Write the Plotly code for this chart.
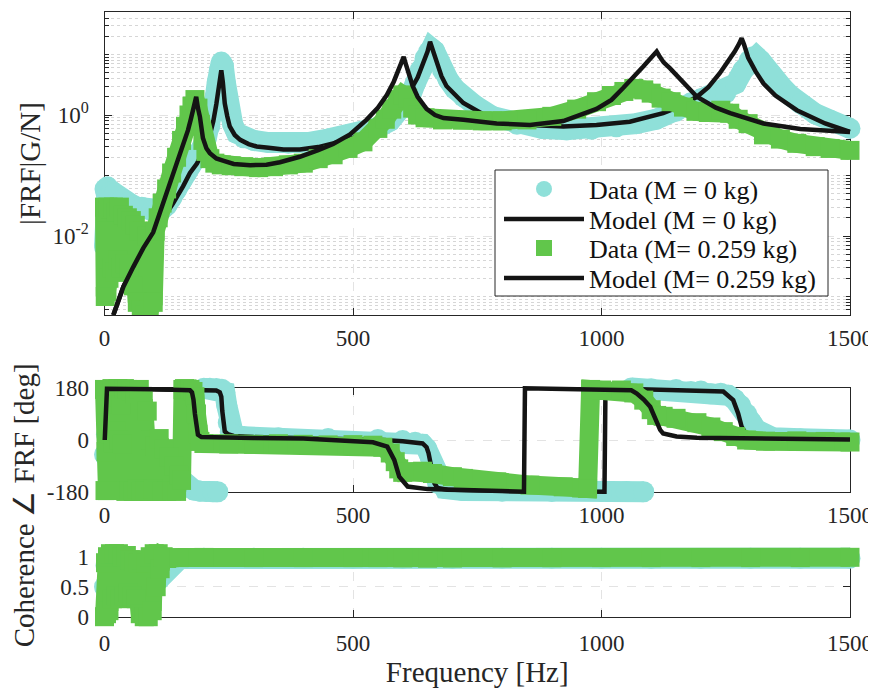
import plotly.graph_objects as go

# ---------------- values ----------------
# |FRF| magnitude, measured data M = 0 kg (cyan circles)
mag_d0_f = [0, 1, 3, 6, 10, 15, 20, 28, 36, 45, 55, 65, 75, 85, 95, 105, 115, 125, 135, 145, 155, 165, 175, 185, 195,
            205, 212, 218, 223, 227, 231, 235, 239, 243, 247, 252, 258, 266, 280, 300, 330, 370, 410, 450, 490, 520,
            550, 575, 600, 615, 625, 635, 645, 652, 658, 664, 670, 680, 692, 705, 722, 745, 780, 830, 880, 930, 980,
            1030, 1070, 1110, 1150, 1180, 1200, 1225, 1250, 1270, 1285, 1297, 1305, 1312, 1320, 1330, 1345, 1362,
            1380, 1400, 1430, 1460, 1500]
mag_d0 = [0.0066, 0.06, 0.05, 0.065, 0.05, 0.055, 0.05, 0.045, 0.04, 0.035, 0.033, 0.03, 0.03, 0.028, 0.026, 0.025,
          0.027, 0.032, 0.042, 0.058, 0.08, 0.11, 0.15, 0.2, 0.28, 0.42, 0.65, 1.1, 2.0, 3.5, 5.5, 7.5, 6.5, 3.5,
          1.8, 1.0, 0.7, 0.5, 0.42, 0.38, 0.35, 0.34, 0.35, 0.4, 0.45, 0.52, 0.62, 0.8, 1.3, 2.0, 3.3, 5.5, 8.7,
          11.0, 12.6, 11.5, 8.5, 5.5, 3.8, 2.7, 2.0, 1.45, 0.95, 0.7, 0.6, 0.57, 0.58, 0.64, 0.72, 0.85, 1.15, 1.6,
          1.85, 1.95, 2.3, 3.3, 5.5, 8.0, 9.2, 9.2, 8.0, 6.0, 4.3, 3.0, 2.1, 1.55, 1.05, 0.82, 0.6]

# |FRF| model M = 0 kg
mag_m0_f = [17.8, 38, 58, 78, 98, 118, 138, 158, 172, 186, 199, 212, 219, 225, 229, 232, 235, 238, 242, 247, 252,
            262, 273, 290, 306, 330, 360, 393, 430, 460, 500, 527, 561, 594, 615, 630, 642, 650, 655, 660, 668, 678,
            688, 705, 722, 760, 789, 856, 923, 990, 1057, 1124, 1160, 1192, 1215, 1238, 1255, 1268, 1277, 1282,
            1287, 1295, 1310, 1326, 1350, 1393, 1450, 1500]
mag_m0 = [0.000494, 0.00145, 0.00309, 0.00631, 0.011, 0.0191, 0.0347, 0.0661, 0.11, 0.158, 0.251, 0.468, 0.794,
          1.51, 2.82, 4.17, 5.5, 3.55, 1.55, 0.955, 0.646, 0.468, 0.389, 0.331, 0.302, 0.288, 0.269, 0.269, 0.295,
          0.339, 0.417, 0.525, 0.759, 1.45, 2.51, 4.17, 7.08, 11.2, 16.2, 12.0, 7.24, 4.37, 3.02, 2.14, 1.58, 1.05,
          0.83, 0.684, 0.646, 0.684, 0.776, 1.07, 1.41, 2.0, 2.88, 4.9, 7.59, 11.2, 15.1, 18.6, 14.5, 8.91, 5.25,
          3.31, 2.09, 1.2, 0.724, 0.525]

# |FRF| measured data M = 0.259 kg (green squares)
mag_d1_f = [0, 1.5, 3, 5, 7, 9, 12, 15, 18, 21, 24, 27, 30, 34, 38, 42, 46, 50, 54, 58, 62, 66, 70, 74, 78, 82, 86,
            90, 94, 98, 102, 108, 116, 125, 135, 145, 155, 163, 170, 176, 182, 188, 193, 198, 204, 212, 222, 235,
            255, 280, 310, 340, 370, 400, 430, 460, 490, 520, 550, 565, 578, 590, 600, 610, 620, 630, 645, 680, 720,
            760, 800, 850, 900, 950, 990, 1020, 1045, 1065, 1085, 1100, 1120, 1140, 1165, 1190, 1215, 1240, 1258,
            1275, 1295, 1326, 1360, 1393, 1430, 1460, 1500]
mag_d1 = [0.03, 0.001, 0.025, 0.0012, 0.03, 0.002, 0.028, 0.003, 0.03, 0.0025, 0.025, 0.004, 0.03, 0.003, 0.022,
          0.0035, 0.02, 0.003, 0.018, 0.0015, 0.015, 0.0008, 0.012, 0.0006, 0.012, 0.0005, 0.01, 0.0006, 0.009,
          0.0008, 0.012, 0.02, 0.035, 0.06, 0.11, 0.2, 0.38, 0.65, 1.0, 1.4, 1.8, 1.3, 0.7, 0.38, 0.25, 0.19, 0.16,
          0.15, 0.145, 0.14, 0.135, 0.14, 0.15, 0.16, 0.19, 0.22, 0.28, 0.36, 0.6, 0.85, 1.25, 1.8, 2.15, 1.9, 1.3,
          1.0, 0.9, 0.83, 0.82, 0.8, 0.8, 0.83, 0.95, 1.25, 1.66, 2.1, 2.45, 2.75, 2.6, 2.3, 1.9, 1.66, 1.35, 1.15,
          1.1, 1.2, 1.07, 0.85, 0.72, 0.47, 0.4, 0.34, 0.3, 0.28, 0.26]

# |FRF| model M = 0.259 kg
mag_m1_f = [17.8, 38, 58, 78, 98, 112, 125, 138, 150, 160, 168, 174, 178, 181, 184.5, 188, 192, 198, 205, 212, 225,
            240, 260, 293, 326, 353, 393, 430, 460, 494, 527, 550, 568, 582, 592, 598, 602, 606, 612, 620, 630, 648,
            665, 682, 722, 789, 856, 923, 990, 1020, 1044, 1065, 1084, 1098, 1106, 1111, 1116, 1125, 1138, 1160,
            1192, 1230, 1259, 1326, 1400, 1500]
mag_m1 = [0.000494, 0.00145, 0.00309, 0.00631, 0.0115, 0.0251, 0.0537, 0.105, 0.191, 0.339, 0.562, 0.871, 1.2,
          1.48, 2.0, 1.3, 0.933, 0.417, 0.282, 0.234, 0.191, 0.174, 0.155, 0.148, 0.151, 0.166, 0.204, 0.263, 0.331,
          0.479, 0.832, 1.32, 2.14, 3.55, 5.5, 7.59, 9.12, 7.08, 4.79, 3.02, 2.0, 1.26, 1.0, 0.891, 0.832, 0.724,
          0.684, 0.794, 1.26, 1.78, 2.82, 4.17, 6.31, 8.51, 10.0, 11.2, 9.55, 7.41, 5.89, 3.72, 2.0, 1.32, 1.07,
          0.724, 0.589, 0.525]

# Phase [deg], data M = 0 kg (None = break where the data wraps at +/-180)
ph_d0_f = [0, 4, 8, 14, 20, 28, 36, 44, 52, 60, 68, 76, 84, 92, 100, 110, 120, 130, 140, 150, 160, 170, 180, 192,
           205, 218, 228, None,
           200, 212, 225, 236, 242, 246, 249, 253, 260, 280, 350, 450, 550, 600, 625, 640, 648, 655, 662, 670, 685,
           720, 800, 900, 1000, 1050, 1085, None,
           1060, 1100, 1150, 1180, 1200, 1220, 1240, 1255, 1268, 1280, 1292, 1302, 1312, 1325, 1345, 1400, 1450,
           1500]
ph_d0 = [-50, 20, -70, 40, -40, 80, -90, 30, -60, 60, -100, 10, -70, -20, -45, -55, -75, -95, -115, -132, -150,
         -165, -173, -177, -178, -179, -179, None,
         179, 179, 178, 176, 165, 120, 60, 28, 17, 11, 8, 5, 2, -2, -8, -15, -30, -60, -110, -150, -168, -175,
         -177, -178, -178, -178, -179, None,
         180, 177, 175, 168, 170, 160, 162, 155, 140, 120, 90, 60, 35, 18, 8, 4, 2, 0]

# Phase [deg], model M = 0 kg
ph_m0_f = [0.5, 5, 100, 200, 225, 232, 235, 237, 239, 242, 248, 260, 300, 400, 500, 560, 600, 625, 640, 648, 652,
           656, 660, 664, 670, 690, 800, 900, 1000, 1006, 1008, 1050, 1150, 1220, 1245, 1265, 1275, 1282, 1292,
           1326, 1400, 1500]
ph_m0 = [0, 177, 176, 174, 171, 165, 150, 100, 50, 30, 20, 14, 10, 7, 4, 0, -4, -8, -12, -25, -45, -80, -120, -150,
         -166, -172, -176, -177, -178, -179, 179, 177, 175, 172, 168, 138, 92, 46, 17, 8, 4, 2]

# Phase [deg], data M = 0.259 kg
ph_d1_f = [0, 1, 2, 3, 4, 6, 8, 10, 12, 15, 18, 21, 24, 27, 30, 33, 36, 40, 43, 46, 50, 54, 58, 62, 66, 70, 74, 78,
           82, 86, 90, 94, 98, 102, 106, 110, 115, 120, 125, 130, 135, 140, 145, 150, 155, 158, 161, 166, 172, 178,
           182, 185, 188, 192, 200, 250, 300, 350, 400, 450, 500, 540, 560, 575, 585, 592, 600, 620, 640, 660, 700,
           722, 789, 856, 923, 960, 972, 978, 1000, 1040, 1065, 1085, 1100, 1111, 1124, 1150, 1192, 1220, 1245,
           1270, 1292, 1330, 1393, 1450, 1500]
ph_d1 = [175, -175, 170, -40, 120, -175, 60, 170, 20, 178, -10, 150, 30, 178, 0, 120, -15, 178, -178, 175, -175, 170,
         -178, 160, -170, 175, -178, 140, -175, 100, -178, 0, -170, -20, -178, 5, -175, -30, -178, -60, -176, -90,
         -178, -120, -140, 175, 178, 177, 175, 168, 150, 90, 20, -5, -12, -14, -15, -13, -15, -17, -16, -18, -25,
         -45, -75, -100, -112, -110, -108, -116, -127, -133, -145, -156, -162, -166, -168, 175, 173, 173, 163, 138,
         105, 85, 82, 75, 60, 45, 29, 12, 0, -4, -3, -5, -7]

# Phase [deg], model M = 0.259 kg
ph_m1_f = [0.5, 5, 100, 150, 172, 176, 179, 182, 185, 188, 195, 230, 300, 400, 500, 540, 569, 583, 593, 610, 650,
           700, 800, 844, 846, 900, 1000, 1060, 1071, 1085, 1098, 1105, 1111, 1118, 1124, 1151, 1192, 1300, 1400,
           1500]
ph_m1 = [0, 177, 176, 175, 172, 165, 140, 90, 40, 18, 10, 8, 7, 5, -3, -8, -23, -69, -127, -161, -170, -172, -175,
         -179, 179, 178, 177, 172, 161, 140, 115, 85, 58, 35, 23, 12, 8, 5, 3, 2]

# Coherence, data M = 0 kg
coh_d0_f = [0, 3, 6, 10, 20, 40, 60, 80, 95, 100, 108, 115, 122, 128, 134, 140, 150, 160, 200, 300, 400, 500, 600,
            700, 800, 900, 1000, 1100, 1200, 1300, 1400, 1500]
coh_d0 = [0.5, 0.85, 0.4, 0.9, 0.6, 0.8, 0.5, 0.7, 0.5, 0.55, 0.6, 0.7, 0.78, 0.85, 0.9, 0.93, 0.955, 0.97, 0.975,
          0.975, 0.975, 0.972, 0.97, 0.972, 0.975, 0.975, 0.975, 0.972, 0.972, 0.975, 0.975, 0.975]

# Coherence, data M = 0.259 kg
coh_d1_f = [0, 2, 4, 6, 9, 12, 16, 20, 24, 28, 32, 36, 40, 44, 48, 52, 56, 60, 64, 68, 72, 76, 80, 84, 88, 92, 96,
            100, 104, 108, 112, 118, 125, 150, 200, 300, 400, 500, 550, 600, 650, 700, 800, 900, 1000, 1100, 1200,
            1300, 1400, 1500]
coh_d1 = [0.0, 0.9, 0.05, 1.0, 0.1, 1.05, 0.3, 1.05, 0.35, 1.05, 0.3, 1.0, 0.35, 1.02, 0.4, 0.95, 0.35, 0.92, 0.3,
          0.9, 0.05, 0.95, 0.0, 0.9, 0.0, 1.0, 0.1, 1.05, 0.5, 1.05, 0.8, 1.0, 0.97, 0.985, 0.988, 0.985, 0.985,
          0.985, 0.985, 0.98, 0.975, 0.978, 0.98, 0.983, 0.985, 0.985, 0.985, 0.985, 0.985, 0.99]

x_ticks = [0, 500, 1000, 1500]
x_ticktext = ["0", "500", "1000", "1500"]
mag_ticks = [0.01, 1]
mag_ticktext = ["10<sup>-2</sup>", "10<sup>0</sup>"]
ph_ticks = [-180, 0, 180]
ph_ticktext = ["-180", "0", "180"]
coh_ticks = [0, 0.5, 1]
coh_ticktext = ["0", "0.5", "1"]

legend_names = ["Data (M = 0 kg)", "Model (M = 0 kg)", "Data (M= 0.259 kg)", "Model (M= 0.259 kg)"]

for a, b in [(mag_d0_f, mag_d0), (mag_m0_f, mag_m0), (mag_d1_f, mag_d1), (mag_m1_f, mag_m1),
             (ph_d0_f, ph_d0), (ph_m0_f, ph_m0), (ph_d1_f, ph_d1), (ph_m1_f, ph_m1),
             (coh_d0_f, coh_d0), (coh_d1_f, coh_d1)]:
    assert len(a) == len(b), (len(a), len(b))

# ---------------- styling ----------------
FONT = "Liberation Serif"
AX = "#262626"
CYAN = "#8fe0d9"
GREEN = "#61c64b"
BLACK = "#141414"
W, H = 876, 692
OFF = 8                      # page body margin: screen px = figure px + 8
ML, MR, MT, MB = 84, 22, 0, 71
PW, PH = W - ML - MR, H - MT - MB


def xd(px):   # screen x -> paper
    return (px - OFF - ML) / PW


def yd(py):   # screen y -> paper
    return (PH - (py - OFF - MT)) / PH


X0, X1 = 104.5, 850.0       # screen x of 0 Hz / 1500 Hz
SX = (X1 - X0) / 1500.0


def f_at(px):
    return (px - X0) / SX


def lg_at(py):
    return (115.0 - py) / 60.5


def deg_at(py):
    return (440.0 - py) * 180.0 / 52.0


def coh_at(py):
    return (616.7 - py) / 60.0


SCR_L, SCR_R = OFF + ML, OFF + W - MR
SCR_T, SCR_B = OFF + MT, OFF + H - MB

fig = go.Figure()

# empty traces so the three framed axes are drawn (under the data)
for xa, ya in [("x", "y"), ("x2", "y2"), ("x3", "y3")]:
    fig.add_trace(go.Scatter(x=[None], y=[None], mode="lines", showlegend=False, xaxis=xa, yaxis=ya))

# magnitude panel (x4/y4)
fig.add_trace(go.Scatter(x=[None], y=[None], mode="markers", name=legend_names[0], legend="legend",
                         marker=dict(symbol="circle", size=22, color=CYAN), xaxis="x4", yaxis="y4"))
fig.add_trace(go.Scatter(x=mag_d0_f, y=mag_d0, mode="lines+markers", showlegend=False,
                         line=dict(color=CYAN, width=21), marker=dict(symbol="circle", size=21, color=CYAN),
                         xaxis="x4", yaxis="y4"))
fig.add_trace(go.Scatter(x=mag_m0_f, y=mag_m0, mode="lines", name=legend_names[1], legend="legend2",
                         line=dict(color=BLACK, width=4.5), xaxis="x4", yaxis="y4"))
fig.add_trace(go.Scatter(x=[None], y=[None], mode="markers", name=legend_names[2], legend="legend3",
                         marker=dict(symbol="square", size=19, color=GREEN), xaxis="x4", yaxis="y4"))
fig.add_trace(go.Scatter(x=mag_d1_f, y=mag_d1, mode="lines+markers", showlegend=False,
                         line=dict(color=GREEN, width=19), marker=dict(symbol="square", size=19, color=GREEN),
                         xaxis="x4", yaxis="y4"))
fig.add_trace(go.Scatter(x=mag_m1_f, y=mag_m1, mode="lines", name=legend_names[3], legend="legend4",
                         line=dict(color=BLACK, width=4.5), xaxis="x4", yaxis="y4"))

# phase panel (x5/y5)
fig.add_trace(go.Scatter(x=ph_d0_f, y=ph_d0, mode="lines+markers", showlegend=False, connectgaps=False,
                         line=dict(color=CYAN, width=21), marker=dict(symbol="circle", size=21, color=CYAN),
                         xaxis="x5", yaxis="y5"))
fig.add_trace(go.Scatter(x=ph_m0_f, y=ph_m0, mode="lines", showlegend=False,
                         line=dict(color=BLACK, width=4.5), xaxis="x5", yaxis="y5"))
fig.add_trace(go.Scatter(x=ph_d1_f, y=ph_d1, mode="lines+markers", showlegend=False,
                         line=dict(color=GREEN, width=19), marker=dict(symbol="square", size=19, color=GREEN),
                         xaxis="x5", yaxis="y5"))
fig.add_trace(go.Scatter(x=ph_m1_f, y=ph_m1, mode="lines", showlegend=False,
                         line=dict(color=BLACK, width=4.5), xaxis="x5", yaxis="y5"))

# coherence panel (x6/y6)
fig.add_trace(go.Scatter(x=coh_d0_f, y=coh_d0, mode="lines+markers", showlegend=False,
                         line=dict(color=CYAN, width=21), marker=dict(symbol="circle", size=21, color=CYAN),
                         xaxis="x6", yaxis="y6"))
fig.add_trace(go.Scatter(x=coh_d1_f, y=coh_d1, mode="lines+markers", showlegend=False,
                         line=dict(color=GREEN, width=19), marker=dict(symbol="square", size=19, color=GREEN),
                         xaxis="x6", yaxis="y6"))

tickfont = dict(family=FONT, size=23, color=AX)
titlefont = dict(family=FONT, size=29, color=AX)


def frame_x(anchor, title=None, standoff=2):
    d = dict(domain=[xd(X0), xd(X1)], range=[0, 1500], anchor=anchor, tickmode="array", tickvals=x_ticks,
             ticktext=x_ticktext, ticks="inside", ticklen=7, tickcolor=AX, tickwidth=1, showline=True,
             linecolor=AX, linewidth=1, mirror="ticks", showgrid=True, gridcolor="#e3e3e3", griddash="dash",
             gridwidth=1, zeroline=False, tickfont=tickfont, ticklabelstandoff=standoff, automargin=False)
    if title:
        d["title"] = dict(text=title, font=titlefont, standoff=6)
    return d


def frame_y(domain, rng, anchor, ticks, ticktext, title, standoff, **extra):
    d = dict(domain=domain, range=rng, anchor=anchor, tickmode="array", tickvals=ticks, ticktext=ticktext,
             ticks="inside", ticklen=7, tickcolor=AX, showline=True, linecolor=AX, linewidth=1, mirror="ticks",
             showgrid=True, gridcolor="#e3e3e3", griddash="dash", zeroline=False, tickfont=tickfont,
             ticklabelstandoff=10, automargin=False,
             title=dict(text=title, font=titlefont, standoff=standoff))
    d.update(extra)
    return d


def hidden(domain, rng, anchor, typ="linear"):
    return dict(domain=domain, range=rng, anchor=anchor, visible=False, type=typ, fixedrange=True,
                automargin=False)


minor_vals = [k * 10.0 ** e for e in range(-4, 2) for k in range(1, 10) if not (k == 1 and e in (-2, 0))]

TOP = (12, 315)
MID = (388, 492)
BOT = (554, 616.7)

# one legend per row so rows can sit as tightly as in the reference
LEG_BOX = (495, 170, 828, 296)
LEG_ROWS = [189, 219, 248, 278]


def row_legend(py):
    return dict(x=xd(499), y=yd(py), xanchor="left", yanchor="middle", bgcolor="rgba(0,0,0,0)", borderwidth=0,
                font=dict(family=FONT, size=26, color="#111111"), itemwidth=80, itemsizing="trace")


layout = dict(
    width=W, height=H, margin=dict(l=ML, r=MR, t=MT, b=MB, autoexpand=False), paper_bgcolor="white",
    plot_bgcolor="rgba(0,0,0,0)", showlegend=True, hovermode=False,
    font=dict(family=FONT, color=AX),
    legend=row_legend(LEG_ROWS[0]), legend2=row_legend(LEG_ROWS[1]),
    legend3=row_legend(LEG_ROWS[2]), legend4=row_legend(LEG_ROWS[3]),
    shapes=[dict(type="rect", xref="paper", yref="paper", x0=xd(LEG_BOX[0]), x1=xd(LEG_BOX[2]),
                 y0=yd(LEG_BOX[3]), y1=yd(LEG_BOX[1]), line=dict(color=AX, width=1), fillcolor="white",
                 layer="above")],
    xaxis=frame_x("y"),
    yaxis=frame_y([yd(TOP[1]), yd(TOP[0])], [lg_at(TOP[1]), lg_at(TOP[0])], "x", mag_ticks, mag_ticktext,
                  "|FRF|G/N]", 3, type="log",
                  minor=dict(tickmode="array", tickvals=minor_vals, ticks="inside", ticklen=4, tickcolor=AX,
                             showgrid=True, gridcolor="#d6d6d6", griddash="dot", gridwidth=1)),
    xaxis2=frame_x("y2"),
    yaxis2=frame_y([yd(MID[1]), yd(MID[0])], [-180, 180], "x2", ph_ticks, ph_ticktext, "\u2220 FRF [deg]", 5),
    xaxis3=frame_x("y3", "Frequency [Hz]", standoff=6),
    yaxis3=frame_y([yd(BOT[1]), yd(BOT[0])], [0, coh_at(BOT[0])], "x3", coh_ticks, coh_ticktext, "Coherence", 21),
    xaxis4=hidden([0, 1], [f_at(SCR_L), f_at(SCR_R)], "y4"),
    yaxis4=hidden([yd(TOP[1]), 1], [lg_at(TOP[1]), lg_at(SCR_T)], "x4", "log"),
    xaxis5=hidden([0, 1], [f_at(SCR_L), f_at(SCR_R)], "y5"),
    yaxis5=hidden([yd(MID[1] + 12), yd(MID[0] - 12)], [deg_at(MID[1] + 12), deg_at(MID[0] - 12)], "x5"),
    xaxis6=hidden([0, 1], [f_at(SCR_L), f_at(SCR_R)], "y6"),
    yaxis6=hidden([yd(SCR_B), yd(BOT[0] - 12)], [coh_at(SCR_B), coh_at(BOT[0] - 12)], "x6"),
)
fig.update_layout(**layout)

fig.write_html("out.html", config={"displayModeBar": False})
